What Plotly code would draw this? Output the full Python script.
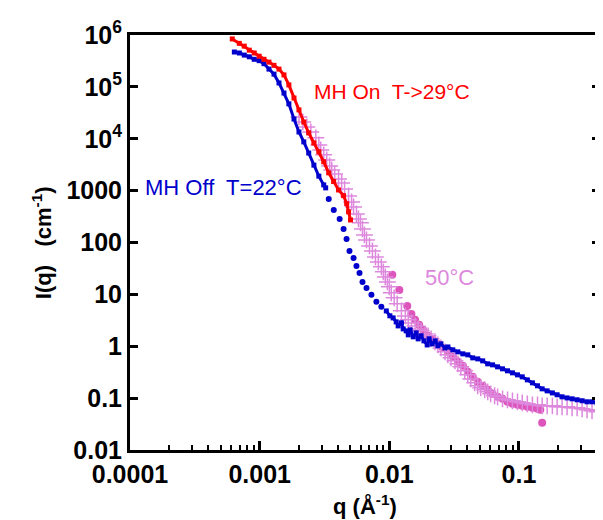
import plotly.graph_objects as go

# MH On, T->29°C (red, dense squares)
red_q = [6.15e-4, 6.97e-4, 7.61e-4, 8.32e-4, 9.08e-4, 9.91e-4, 1.08e-3, 1.18e-3, 1.29e-3,
         1.41e-3, 1.54e-3, 1.68e-3, 1.84e-3, 2.01e-3, 2.19e-3, 2.39e-3, 2.62e-3, 2.86e-3,
         3.12e-3, 3.41e-3, 3.72e-3, 4.06e-3, 4.44e-3, 4.69e-3, 4.85e-3, 5.02e-3]
red_I = [8.4e5, 6.9e5, 6.1e5, 5.1e5, 4.5e5, 3.9e5, 3.4e5, 3.0e5, 2.6e5,
         2.2e5, 1.7e5, 1.09e5, 6.1e4, 3.6e4, 2.1e4, 1.3e4, 8.3e3, 5.6e3,
         3.6e3, 2.2e3, 1.5e3, 1.03e3, 800, 560, 390, 272]

# MH Off, T=22°C (blue) - low q dense part
blue_q = [6.38e-4, 6.97e-4, 7.61e-4, 8.32e-4, 9.08e-4, 9.91e-4, 1.08e-3, 1.18e-3, 1.29e-3,
          1.41e-3, 1.54e-3, 1.68e-3, 1.84e-3, 2.01e-3, 2.19e-3, 2.39e-3, 2.62e-3, 2.86e-3,
          3.12e-3, 3.23e-3]
blue_I = [4.7e5, 4.5e5, 4.1e5, 3.8e5, 3.4e5, 3.2e5, 2.8e5, 2.2e5, 1.76e5,
          1.19e5, 7.6e4, 4.7e4, 2.4e4, 1.35e4, 8.7e3, 5.3e3, 3.1e3, 1.9e3,
          1.29e3, 1.13e3]

# blue, sparse dots in the middle
blue_dot_q = [3.41e-3, 3.73e-3, 4.14e-3, 4.44e-3, 4.68e-3, 4.93e-3, 5.30e-3, 5.58e-3,
              5.89e-3, 6.21e-3, 6.67e-3, 7.28e-3, 7.95e-3, 8.68e-3]
blue_dot_I = [692, 425, 285, 183, 117, 68.9, 50.5, 35.4, 25.9, 17.4, 13.3, 9.8, 7.17, 5.75]

# blue, high q dense part
blue_hq_q = [9.48e-3, 1.01e-2, 1.07e-2, 1.13e-2, 1.17e-2, 1.24e-2, 1.28e-2, 1.35e-2, 1.40e-2,
             1.45e-2, 1.53e-2, 1.61e-2, 1.67e-2, 1.76e-2, 1.85e-2, 1.96e-2, 2.03e-2, 2.14e-2,
             2.26e-2, 2.37e-2, 2.50e-2, 2.69e-2, 2.83e-2, 3.09e-2, 3.38e-2, 3.69e-2, 4.03e-2,
             4.40e-2, 4.81e-2, 5.25e-2, 5.74e-2, 6.26e-2, 6.84e-2, 7.47e-2, 8.16e-2, 8.91e-2,
             9.74e-2, 0.106, 0.116, 0.127, 0.139, 0.151, 0.165, 0.181, 0.197, 0.215, 0.235,
             0.257, 0.281, 0.307, 0.335, 0.366, 0.400, 0.421]
blue_hq_I = [4.8, 3.86, 3.52, 2.95, 2.47, 2.83, 2.16, 1.98, 1.66,
             2.07, 1.52, 1.81, 1.39, 1.59, 1.27, 1.06, 1.39, 1.11,
             1.27, 1.02, 1.11, 0.93, 0.97, 0.853, 0.78, 0.714, 0.683,
             0.597, 0.571, 0.523, 0.458, 0.438, 0.401, 0.367, 0.336, 0.307,
             0.281, 0.257, 0.225, 0.197, 0.173, 0.151, 0.138, 0.126, 0.116, 0.106, 0.101,
             0.097, 0.093, 0.089, 0.085, 0.085, 0.081, 0.081]

# 50°C (light violet crosses)
hot_q = [2.01e-3, 2.15e-3, 2.31e-3, 2.48e-3, 2.71e-3, 2.86e-3, 2.96e-3, 3.12e-3, 3.29e-3,
         3.47e-3, 3.60e-3, 3.79e-3, 4.06e-3, 4.29e-3, 4.52e-3, 4.85e-3, 5.12e-3, 5.30e-3,
         5.58e-3, 5.78e-3, 5.99e-3, 6.21e-3, 6.43e-3, 6.67e-3, 7.03e-3, 7.41e-3, 7.82e-3,
         8.23e-3, 8.68e-3, 8.99e-3, 9.31e-3, 9.66e-3, 1.00e-2, 1.035e-2, 1.09e-2, 1.15e-2,
         1.24e-2, 1.33e-2, 1.40e-2, 1.48e-2, 1.58e-2, 1.67e-2, 1.76e-2, 1.89e-2, 1.99e-2,
         2.10e-2, 2.25e-2, 2.37e-2, 2.50e-2, 2.69e-2, 2.83e-2, 2.99e-2, 3.21e-2, 3.38e-2,
         3.56e-2, 3.82e-2, 4.03e-2, 4.25e-2, 4.56e-2, 4.81e-2, 5.07e-2, 5.44e-2, 5.74e-2,
         6.05e-2, 6.49e-2, 6.84e-2, 7.47e-2, 8.16e-2, 8.91e-2, 9.74e-2, 0.106, 0.116,
         0.127, 0.139, 0.151, 0.165, 0.181, 0.197, 0.215, 0.235, 0.257, 0.281, 0.307,
         0.335, 0.366, 0.400]
hot_I = [2.63e4, 2.11e4, 1.69e4, 1.35e4, 1.04e4, 7.6e3, 6.1e3, 4.9e3, 3.9e3,
         2.99e3, 2.5e3, 2.1e3, 1.68e3, 1.41e3, 1.08e3, 791, 606, 485,
         356, 285, 239, 183, 140, 112, 85.9, 68.9, 52.8,
         42.3, 33.9, 27.2, 21.7, 17.4, 14.0, 10.7, 8.57, 6.56,
         4.81, 3.85, 3.23, 2.82, 2.47, 2.16, 1.98, 1.73, 1.59,
         1.39, 1.22, 1.06, 0.93, 0.78, 0.683, 0.597, 0.523, 0.458,
         0.401, 0.336, 0.281, 0.235, 0.197, 0.173, 0.158, 0.145, 0.132,
         0.121, 0.111, 0.106, 0.097, 0.0928, 0.0887, 0.0849, 0.0813, 0.0777,
         0.0743, 0.0743, 0.0711, 0.0711, 0.0711, 0.068, 0.068, 0.068, 0.065, 0.065, 0.0622,
         0.0595, 0.0569, 0.0545]

# 50°C (magenta dots)
hot_dot_q = [1.054e-2, 1.195e-2, 1.375e-2, 1.48e-2, 1.58e-2, 1.70e-2, 1.82e-2, 1.99e-2,
             2.17e-2, 2.37e-2, 2.59e-2, 2.83e-2, 3.09e-2, 3.38e-2, 3.69e-2, 4.03e-2,
             4.40e-2, 4.81e-2, 5.25e-2, 5.74e-2, 6.26e-2, 6.84e-2, 7.47e-2, 8.16e-2,
             8.91e-2, 9.74e-2, 0.106, 0.116, 0.127, 0.139, 0.146, 0.151]
hot_dot_I = [23.8, 12.2, 6.0, 4.2, 3.23, 2.6, 2.07, 1.59,
             1.33, 1.11, 0.93, 0.78, 0.625, 0.50, 0.42, 0.321,
             0.257, 0.206, 0.173, 0.145, 0.121, 0.106, 0.097, 0.0849,
             0.0777, 0.0743, 0.0711, 0.068, 0.065, 0.0622, 0.0595, 0.0334]

x_ticks = [1e-4, 1e-3, 1e-2, 1e-1]
x_labels = ["0.0001", "0.001", "0.01", "0.1"]
x_minor = [2e-4, 3e-4, 4e-4, 5e-4, 6e-4, 7e-4, 8e-4, 9e-4,
           2e-3, 3e-3, 4e-3, 5e-3, 6e-3, 7e-3, 8e-3, 9e-3,
           2e-2, 3e-2, 4e-2, 5e-2, 6e-2, 7e-2, 8e-2, 9e-2,
           2e-1, 3e-1, 4e-1]
y_ticks = [1e-2, 1e-1, 1, 10, 100, 1000, 1e4, 1e5, 1e6]
y_labels = ["0.01", "0.1", "1", "10", "100", "1000",
            "10<sup>4</sup>", "10<sup>5</sup>", "10<sup>6</sup>"]

RED = "#FF0000"
BLUE = "#0000CC"
VIOLET = "#DD88DD"
MAGENTA = "#DD55BB"
FONT = "Liberation Sans, Arial, sans-serif"

fig = go.Figure()
fig.add_trace(go.Scatter(x=hot_dot_q, y=hot_dot_I, mode="markers",
                         marker=dict(symbol="circle", size=8, color=MAGENTA)))
fig.add_trace(go.Scatter(x=hot_q, y=hot_I, mode="markers",
                         marker=dict(symbol="cross-thin", size=12, color=VIOLET,
                                     line=dict(color=VIOLET, width=1.5))))
fig.add_trace(go.Scatter(x=blue_hq_q, y=blue_hq_I, mode="lines+markers",
                         line=dict(color=BLUE, width=3),
                         marker=dict(symbol="square", size=5, color=BLUE)))
fig.add_trace(go.Scatter(x=blue_dot_q, y=blue_dot_I, mode="markers",
                         marker=dict(symbol="circle", size=6, color=BLUE)))
fig.add_trace(go.Scatter(x=blue_q, y=blue_I, mode="lines+markers",
                         line=dict(color=BLUE, width=3),
                         marker=dict(symbol="square", size=5, color=BLUE)))
fig.add_trace(go.Scatter(x=red_q, y=red_I, mode="lines+markers",
                         line=dict(color=RED, width=3),
                         marker=dict(symbol="square", size=5, color=RED)))

fig.add_annotation(x=-2.600, y=4.902, xref="x", yref="y", xanchor="left", yanchor="middle",
                   text="MH On  T->29°C", showarrow=False,
                   font=dict(family=FONT, size=21, color=RED))
fig.add_annotation(x=-3.900, y=3.052, xref="x", yref="y", xanchor="left", yanchor="middle",
                   text="MH Off  T=22°C", showarrow=False,
                   font=dict(family=FONT, size=22, color=BLUE))
fig.add_annotation(x=-1.739, y=1.318, xref="x", yref="y", xanchor="left", yanchor="middle",
                   text="50°C", showarrow=False,
                   font=dict(family=FONT, size=22, color=VIOLET))
fig.add_annotation(x=-0.222, y=0.5, xref="paper", yref="paper", textangle=-90,
                   text="I(q)   (cm<sup>-1</sup>)", showarrow=False,
                   font=dict(family=FONT, size=22, color="black", weight="bold"))
fig.add_annotation(x=0.5, y=-0.133, xref="paper", yref="paper", yanchor="middle",
                   text="q (Å<sup>-1</sup>)", showarrow=False,
                   font=dict(family=FONT, size=22, color="black", weight="bold"))

fig.update_xaxes(type="log", range=[-4, -0.375], showline=True, linecolor="black", linewidth=3,
                 mirror=True, ticks="inside", ticklen=9, tickwidth=3, tickcolor="black",
                 tickmode="array", tickvals=x_ticks, ticktext=x_labels,
                 tickfont=dict(family=FONT, size=25, color="black", weight="bold"),
                 minor=dict(tickmode="array", tickvals=x_minor, ticks="inside", ticklen=5,
                            tickwidth=2, tickcolor="black", showgrid=False),
                 showgrid=False, zeroline=False)
fig.update_yaxes(type="log", range=[-2, 6], showline=True, linecolor="black", linewidth=3,
                 mirror="ticks", ticks="inside", ticklen=8, tickwidth=3, tickcolor="black",
                 tickmode="array", tickvals=y_ticks, ticktext=y_labels,
                 tickfont=dict(family=FONT, size=25, color="black", weight="bold"),
                 showgrid=False, zeroline=False)

# the page body adds an 8 px margin, so the figure is sized to end at the window edge
fig.update_layout(width=595, height=512, showlegend=False,
                  margin=dict(l=122, r=0, t=27, b=70),
                  plot_bgcolor="white", paper_bgcolor="white")

fig.write_html("out.html")
